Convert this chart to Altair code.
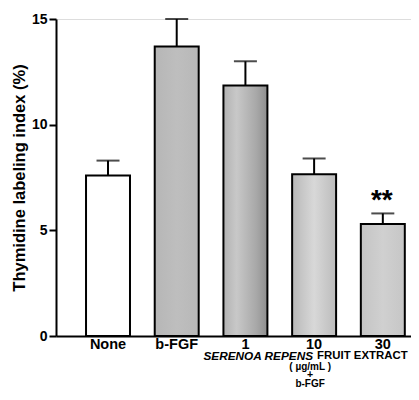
import altair as alt
import pandas as pd

categories = ["None", "b-FGF", "1", "10", "30"]
means = [7.6, 13.7, 11.85, 7.65, 5.3]
upper = [8.3, 15.0, 13.0, 8.4, 5.8]
signif = ["", "", "", "", "**"]

df = pd.DataFrame({"cat": categories, "mean": means, "upper": upper, "sig": signif})

FONT = "Liberation Sans"
W, H = 355, 317


def grad(*stops):
    return alt.Gradient(gradient="linear", x1=0, x2=1, y1=0, y2=0,
                        stops=[alt.GradientStop(color=c, offset=o) for o, c in stops])


fills = {
    "None": "white",
    "b-FGF": grad((0, "#b6b6b6"), (0.5, "#bebebe"), (1, "#b8b8b8")),
    "1": grad((0, "#b2b2b2"), (0.3, "#c8c8c8"), (0.75, "#a8a8a8"), (1, "#8e8e8e")),
    "10": grad((0, "#b8b8b8"), (0.5, "#d8d8d8"), (1, "#bcbcbc")),
    "30": grad((0, "#c4c4c4"), (0.5, "#d0d0d0"), (1, "#c6c6c6")),
}

xscale = alt.Scale(domain=categories, paddingInner=0.36, paddingOuter=0.2636, align=0.829)
yscale = alt.Scale(domain=[0, 15], nice=False)

x = alt.X("cat:N", scale=xscale, sort=categories,
          axis=alt.Axis(title=None, labelAngle=0, ticks=False, labelFont=FONT,
                        labelFontSize=14.5, labelFontWeight="bold", labelColor="black",
                        labelPadding=1, domainColor="black", domainWidth=2))
y = alt.Y("mean:Q", scale=yscale,
          axis=alt.Axis(title="Thymidine labeling index (%)", values=[0, 5, 10, 15],
                        grid=False, tickSize=7, tickWidth=2, tickColor="black",
                        domainColor="black", domainWidth=2, labelFont=FONT,
                        labelFontSize=14, labelFontWeight="bold", labelColor="black",
                        labelPadding=2, titleFont=FONT, titleFontSize=16.5,
                        titleFontWeight="bold", titleColor="black", titlePadding=4))

base = alt.Chart(df)

bars = [
    base.transform_filter(alt.datum.cat == c).mark_bar(
        fill=fills[c], stroke="black", strokeWidth=2
    ).encode(x=x, y=y)
    for c in categories
]

xs = alt.X("cat:N", scale=xscale, sort=categories)

stem = base.mark_rule(color="black", strokeWidth=2).encode(
    x=xs, y=alt.Y("mean:Q", scale=yscale), y2="upper:Q")

cap = base.mark_tick(color="black", thickness=2, size=23).encode(
    x=xs, y=alt.Y("upper:Q", scale=yscale))

stars = base.mark_text(font=FONT, fontSize=28, fontWeight="bold", baseline="alphabetic",
                       dy=-4, dx=-1, color="black").encode(
    x=xs, y=alt.Y("upper:Q", scale=yscale), text="sig:N")

anchor = pd.DataFrame({"cat": ["10"]})
ann = alt.Chart(anchor)

line1a = ann.mark_text(text="SERENOA REPENS", font=FONT, fontSize=11.8, fontWeight="bold",
                       fontStyle="italic", align="right", baseline="middle",
                       dx=-1, color="black").encode(x=xs, y=alt.value(H + 20))
line1b = ann.mark_text(text="FRUIT EXTRACT", font=FONT, fontSize=11.4, fontWeight="bold",
                       align="left", baseline="middle", dx=3,
                       color="black").encode(x=xs, y=alt.value(H + 20))
line2 = ann.mark_text(text="( µg/mL )", font=FONT, fontSize=10, fontWeight="bold",
                      align="center", baseline="middle", dx=-4,
                      color="black").encode(x=xs, y=alt.value(H + 30.5))
line3 = ann.mark_text(text="+", font=FONT, fontSize=10.5, fontWeight="bold",
                      align="center", baseline="middle", dx=-4,
                      color="black").encode(x=xs, y=alt.value(H + 38.5))
line4 = ann.mark_text(text="b-FGF", font=FONT, fontSize=10, fontWeight="bold",
                      align="center", baseline="middle", dx=-4,
                      color="black").encode(x=xs, y=alt.value(H + 47.5))

chart = alt.layer(*bars, stem, cap, stars, line1a, line1b, line2, line3, line4).properties(
    width=W, height=H,
    autosize=alt.AutoSizeParams(type="none"),
    padding={"left": 48, "top": 11, "right": 0, "bottom": 52},
).configure_view(stroke=None).configure(background="white")

chart.save("out.html", embed_options={"renderer": "svg", "actions": False})
